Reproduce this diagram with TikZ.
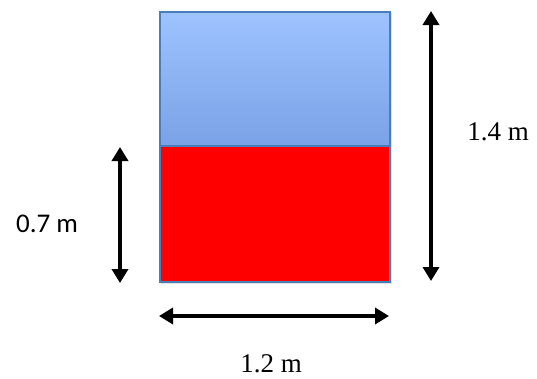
\documentclass[tikz,border=0pt]{standalone}
\usepackage{fontspec}
\setmainfont{Liberation Serif}
\newfontfamily\calfont{Carlito}
\usetikzlibrary{arrows.meta}
\definecolor{edgeblue}{HTML}{4A7EBB}
\definecolor{topblue}{HTML}{9EC3FF}
\definecolor{botblue}{HTML}{7AA2E6}
\tikzset{
  dimarrow/.style={line width=3.8pt, {Triangle[length=14pt,width=16pt]}-{Triangle[length=14pt,width=16pt]}},
  serlabel/.style={font=\fontsize{27}{32}\selectfont, inner sep=0pt},
  sanlabel/.style={font=\calfont\fontsize{27}{32}\selectfont, inner sep=0pt},
}
\begin{document}
\begin{tikzpicture}[x=1pt,y=-1pt]
\useasboundingbox (0,0) rectangle (537,378);
% shadow
\fill[black!12] (161,13) rectangle (392,284);
% blue part
\shade[top color=topblue, bottom color=botblue] (159,11) rectangle (389,145);
\node[draw=edgeblue, line width=1.8pt, fill=red, inner sep=0pt, minimum width=230pt, minimum height=136pt, anchor=north west] (lower) at (159,145) {};
\node[draw=edgeblue, line width=1.8pt, inner sep=0pt, minimum width=230pt, minimum height=134pt, anchor=north west] (upper) at (159,11) {};
% arrows
\coordinate (rt) at (431,11);
\coordinate (rb) at (431,281);
\coordinate (lt) at (120,147);
\coordinate (lb) at (120,283);
\coordinate (bl) at (159,316);
\coordinate (br) at (389,316);
\draw[dimarrow] (rt) -- (rb);
\draw[dimarrow] (lt) -- (lb);
\draw[dimarrow] (bl) -- (br);
% labels
\node[serlabel] (l14) at (498,132) {1.4 m};
\node[sanlabel] (l07) at (47,224) {0.7 m};
\node[serlabel] (l12) at (271,364) {1.2 m};
\end{tikzpicture}
\end{document}
